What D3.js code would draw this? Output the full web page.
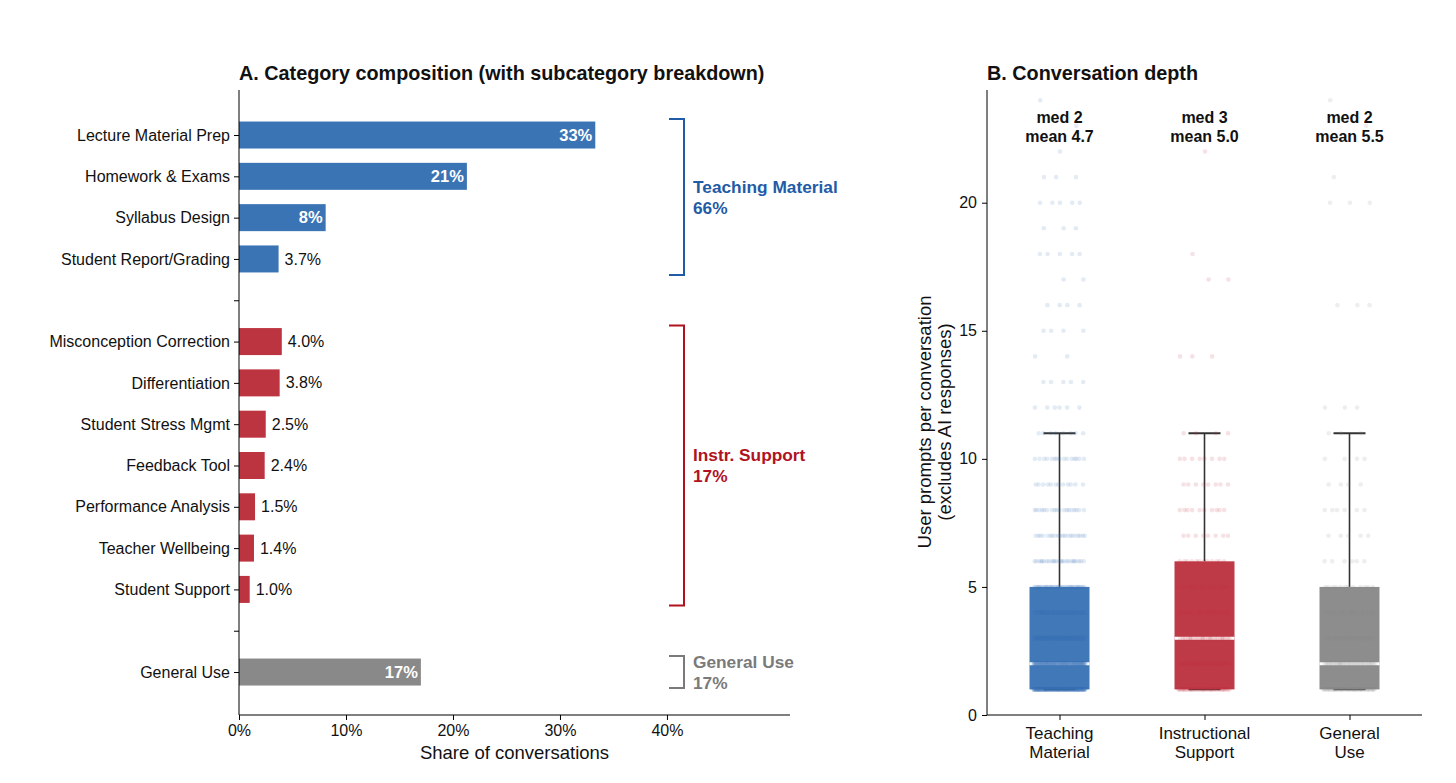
<!DOCTYPE html>
<html>
<head>
<meta charset="utf-8">
<script src="https://cdn.jsdelivr.net/npm/d3@7"></script>
<style>
  body { margin: 0; background: #fff; }
  svg text { font-family: "Liberation Sans", Arial, sans-serif; }
</style>
</head>
<body>
<div id="chart"></div>
<script>
// ---- data: panel A ----
var groupNames = ["Teaching Material", "Instr. Support", "General Use"];
var groupTotals = [66, 17, 17];
var subcategories = ["Lecture Material Prep", "Homework & Exams", "Syllabus Design", "Student Report/Grading",
  "Misconception Correction", "Differentiation", "Student Stress Mgmt", "Feedback Tool",
  "Performance Analysis", "Teacher Wellbeing", "Student Support", "General Use"];
var subShares = [33.3, 21.3, 8.1, 3.7, 4.0, 3.8, 2.5, 2.4, 1.5, 1.4, 1.0, 17.0];
var subGroup = [0, 0, 0, 0, 1, 1, 1, 1, 1, 1, 1, 2];
var xTicksA = [0, 10, 20, 30, 40];

// ---- data: panel B ----
var depthCats = ["Teaching Material", "Instructional Support", "General Use"];
var medians = [2, 3, 2];
var means = [4.7, 5.0, 5.5];
var q1s = [1, 1, 1];
var q3s = [5, 6, 5];
var whiskLo = [1, 1, 1];
var whiskHi = [11, 11, 11];
var promptValues = [1,2,3,4,5,6,7,8,9,10,11,12,13,14,15,16,17,18,19,20,21,22,23,24];
var teachingCounts = [150,120,70,50,40,25,20,18,12,15,8,6,5,2,4,4,2,5,3,5,3,1,1,1];
var instrCounts    = [40,35,25,20,15,12,8,10,8,8,4,0,0,3,0,0,2,1,0,0,0,1,0,0];
var generalCounts  = [45,35,20,15,12,6,5,6,4,4,3,3,0,0,0,3,0,0,0,3,1,0,1,1];
var yTicksB = [0, 5, 10, 15, 20];

var barColors = ["#3b74b5", "#bd3441", "#898989"];
var textColors = ["#1f5ba6", "#b0121f", "#7a7a7a"];

var W = 1456, H = 783;
var svg = d3.select("#chart").append("svg").attr("width", W).attr("height", H);

// ================= Panel A =================
var xA = d3.scaleLinear().domain([0, 51.5]).range([239, 790]);
var yA = d3.scaleLinear().domain([-1.09, 14.04]).range([90, 715]);

// row index for each subcategory, leaving a blank slot between groups
var rowIdx = [];
var r = 0;
subGroup.forEach(function(g, i) {
  if (i > 0 && g !== subGroup[i - 1]) r++;
  rowIdx.push(r);
  r++;
});
var rowLabel = {};
rowIdx.forEach(function(ri, i) { rowLabel[ri] = subcategories[i]; });

var gA = svg.append("g");

gA.append("text").attr("x", 239).attr("y", 80)
  .style("font-size", "19.8px").style("font-weight", "bold").attr("fill", "#111")
  .text("A. Category composition (with subcategory breakdown)");

var bh = 27;
gA.selectAll("rect.bar").data(subShares).enter().append("rect")
  .attr("class", "bar")
  .attr("x", xA(0))
  .attr("y", function(d, i) { return yA(rowIdx[i]) - bh / 2; })
  .attr("width", function(d) { return xA(d) - xA(0); })
  .attr("height", bh)
  .attr("fill", function(d, i) { return barColors[subGroup[i]]; });

gA.selectAll("text.val").data(subShares).enter().append("text")
  .attr("class", "val")
  .attr("x", function(d) { return d >= 5 ? xA(d) - 3 : xA(d) + 6; })
  .attr("y", function(d, i) { return yA(rowIdx[i]); })
  .attr("dy", "0.35em")
  .attr("text-anchor", function(d) { return d >= 5 ? "end" : "start"; })
  .style("font-size", function(d) { return d >= 5 ? "16.5px" : "16px"; })
  .style("font-weight", function(d) { return d >= 5 ? "bold" : "normal"; })
  .attr("fill", function(d) { return d >= 5 ? "#fff" : "#111"; })
  .text(function(d) { return d >= 5 ? d3.format(".0f")(d) + "%" : d3.format(".1f")(d) + "%"; });

// axes
var axLeftA = gA.append("g").attr("transform", "translate(" + xA(0) + ",0)")
  .call(d3.axisLeft(yA).tickValues(d3.range(r)).tickSize(5).tickPadding(4)
    .tickFormat(function(i) { return rowLabel[i] || ""; }));
axLeftA.select(".domain").attr("d", "M0," + 90 + "V715");
axLeftA.selectAll("text").style("font-size", "16px").attr("fill", "#111");

var axBotA = gA.append("g").attr("transform", "translate(0,715)")
  .call(d3.axisBottom(xA).tickValues(xTicksA).tickSize(5).tickPadding(5)
    .tickFormat(function(d) { return d + "%"; }));
axBotA.select(".domain").attr("d", "M239,0H790");
axBotA.selectAll("text").style("font-size", "16px").attr("fill", "#111");

gA.append("text").attr("x", (239 + 790) / 2).attr("y", 759)
  .attr("text-anchor", "middle").style("font-size", "18.5px").attr("fill", "#111")
  .text("Share of conversations");

// group brackets
groupNames.forEach(function(name, g) {
  var rows = rowIdx.filter(function(ri, i) { return subGroup[i] === g; });
  var top = yA(d3.min(rows)) - 16, bot = yA(d3.max(rows)) + 16;
  var bx = 684;
  gA.append("path")
    .attr("d", "M669," + top + "H" + bx + "V" + bot + "H669")
    .attr("fill", "none").attr("stroke", textColors[g])
    .attr("stroke-width", 2);
  var mid = (top + bot) / 2;
  var t = gA.append("text").attr("x", 693).attr("y", mid - 4)
    .style("font-size", "17.3px").style("font-weight", "bold").attr("fill", textColors[g]);
  t.append("tspan").attr("x", 693).text(name);
  t.append("tspan").attr("x", 693).attr("dy", 21).text(groupTotals[g] + "%");
});

// ================= Panel B =================
var xB = d3.scaleLinear().domain([-0.5, 2.5]).range([987, 1422]);
var yB = d3.scaleLinear().domain([0, 24.4]).range([715, 90]);
var gB = svg.append("g");

gB.append("text").attr("x", 987).attr("y", 80)
  .style("font-size", "19.8px").style("font-weight", "bold").attr("fill", "#111")
  .text("B. Conversation depth");

var boxHalf = 30, capHalf = 16;
var countsByCat = [teachingCounts, instrCounts, generalCounts];

depthCats.forEach(function(c, i) {
  var cx = xB(i);
  // whiskers
  gB.append("line").attr("x1", cx).attr("x2", cx)
    .attr("y1", yB(q3s[i])).attr("y2", yB(whiskHi[i]))
    .attr("stroke", "#333").attr("stroke-width", 1.6);
  gB.append("line").attr("x1", cx - capHalf).attr("x2", cx + capHalf)
    .attr("y1", yB(whiskHi[i])).attr("y2", yB(whiskHi[i]))
    .attr("stroke", "#333").attr("stroke-width", 1.8);
  gB.append("line").attr("x1", cx - capHalf).attr("x2", cx + capHalf)
    .attr("y1", yB(whiskLo[i])).attr("y2", yB(whiskLo[i]))
    .attr("stroke", "#333").attr("stroke-width", 1.8);
  // box
  gB.append("rect").attr("x", cx - boxHalf).attr("width", boxHalf * 2)
    .attr("y", yB(q3s[i])).attr("height", yB(q1s[i]) - yB(q3s[i]))
    .attr("fill", barColors[i]).attr("fill-opacity", 0.97);
  // median
  gB.append("line").attr("x1", cx - boxHalf).attr("x2", cx + boxHalf)
    .attr("y1", yB(medians[i])).attr("y2", yB(medians[i]))
    .attr("stroke", "#fff").attr("stroke-width", 3);
  // strip points (evenly spread horizontally within each value row)
  var pts = [];
  promptValues.forEach(function(v, k) {
    for (var j = 0; j < countsByCat[i][k]; j++) {
      pts.push({ v: v, off: ((j * 0.618034 + k * 0.31) % 1) - 0.5 });
    }
  });
  gB.selectAll(null).data(pts).enter().append("circle")
    .attr("cx", function(d) { return cx + d.off * 52; })
    .attr("cy", function(d) { return yB(d.v); })
    .attr("r", 2.3)
    .attr("fill", barColors[i]).attr("fill-opacity", 0.14);
  // annotation
  var t = gB.append("text").attr("x", cx).attr("y", 123).attr("text-anchor", "middle")
    .style("font-size", "16px").style("font-weight", "bold").attr("fill", "#111");
  t.append("tspan").attr("x", cx).text("med " + medians[i]);
  t.append("tspan").attr("x", cx).attr("dy", 19).text("mean " + d3.format(".1f")(means[i]));
});

var axLeftB = gB.append("g").attr("transform", "translate(987,0)")
  .call(d3.axisLeft(yB).tickValues(yTicksB).tickSize(5).tickPadding(5));
axLeftB.select(".domain").attr("d", "M0,90V715");
axLeftB.selectAll("text").style("font-size", "16px").attr("fill", "#111");

var axBotB = gB.append("g").attr("transform", "translate(0,715)")
  .call(d3.axisBottom(xB).tickValues([0, 1, 2]).tickSize(5).tickFormat(""));
axBotB.select(".domain").attr("d", "M987,0H1422");
depthCats.forEach(function(c, i) {
  var words = c.split(" ");
  var t = gB.append("text").attr("x", xB(i)).attr("y", 739).attr("text-anchor", "middle")
    .style("font-size", "17px").attr("fill", "#111");
  words.forEach(function(w, k) {
    t.append("tspan").attr("x", xB(i)).attr("dy", k === 0 ? 0 : 19).text(w);
  });
});

var yl = gB.append("text").attr("transform", "translate(931,422) rotate(-90)")
  .attr("text-anchor", "middle").style("font-size", "18.5px").attr("fill", "#111");
yl.append("tspan").attr("x", 0).text("User prompts per conversation");
yl.append("tspan").attr("x", 0).attr("dy", 20).text("(excludes AI responses)");
</script>
</body>
</html>
